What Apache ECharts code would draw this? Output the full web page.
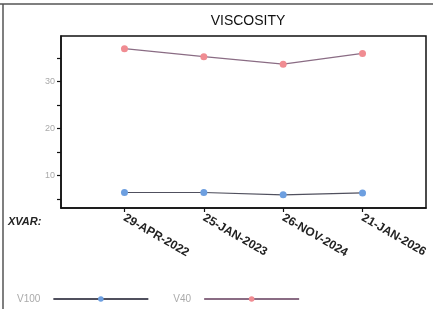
<!DOCTYPE html>
<html>
<head>
<meta charset="utf-8">
<script src="https://cdn.jsdelivr.net/npm/echarts@6/dist/echarts.min.js"></script>
<style>
  html, body { margin: 0; padding: 0; background: #fff; }
  #viscosityChart { width: 433px; height: 309px; }
</style>
</head>
<body>
<div id="viscosityChart"></div>
<script>
const sampleDates = ["29-APR-2022", "25-JAN-2023", "26-NOV-2024", "21-JAN-2026"];
const v100Values = [6.4, 6.4, 5.9, 6.3];
const v40Values = [37.0, 35.3, 33.7, 36.0];
const yTicks = [5, 10, 15, 20, 25, 30, 35];
const yLabels = [10, 20, 30];

const toPoints = (vals) => vals.map((v, i) => [i, v]);

const option = {
    animation: false,
    textStyle: { fontFamily: "Liberation Sans, Arial, sans-serif" },
    title: {
        text: "VISCOSITY",
        left: 243,
        top: 9,
        textAlign: "center",
        textStyle: { fontSize: 14, fontWeight: 500, color: "#111" }
    },
    grid: {
        left: 61,
        top: 36,
        right: 7,
        bottom: 101,
        show: true,
        borderColor: "#111",
        borderWidth: 1.5
    },
    xAxis: {
        type: "value",
        min: -0.8,
        max: 3.8,
        splitLine: { show: false },
        axisLine: { show: true, onZero: false, lineStyle: { color: "#111", width: 1.5 } },
        axisTick: { show: true, length: 4, customValues: [0, 1, 2, 3], lineStyle: { color: "#111", width: 1.2 } },
        axisLabel: {
            customValues: [0, 1, 2, 3],
            formatter: (v) => sampleDates[v],
            rotate: -30,
            margin: 9,
            fontSize: 12,
            fontWeight: "bold",
            color: "#222"
        }
    },
    yAxis: {
        type: "value",
        min: 3.1,
        max: 39.7,
        splitLine: { show: false },
        axisLine: { show: true, onZero: false, lineStyle: { color: "#111", width: 1.5 } },
        axisTick: { show: true, length: 4, customValues: yTicks, lineStyle: { color: "#111", width: 1.2 } },
        axisLabel: { customValues: yLabels, fontSize: 9, color: "#aaa", margin: 6 }
    },
    legend: {
        left: 12,
        top: 289,
        align: "right",
        itemWidth: 95,
        itemHeight: 7,
        itemGap: 24,
        textStyle: { fontSize: 10, color: "#aaa", padding: [0, 8, 0, 0] },
        data: ["V100", "V40"]
    },
    graphic: [
        { type: "line", shape: { x1: 0, y1: 4, x2: 433, y2: 4 }, style: { stroke: "#555", lineWidth: 1.5 } },
        { type: "line", shape: { x1: 3, y1: 4, x2: 3, y2: 309 }, style: { stroke: "#555", lineWidth: 1.5 } },
        {
            type: "text", left: 8, top: 216,
            style: { text: "XVAR:", font: "italic bold 11px Liberation Sans", fill: "#222" }
        }
    ],
    series: [
        {
            name: "V100",
            type: "line",
            data: toPoints(v100Values),
            symbol: "circle",
            symbolSize: 7,
            itemStyle: { color: "#6d9fe0" },
            lineStyle: { color: "#50505e", width: 1.2 }
        },
        {
            name: "V40",
            type: "line",
            data: toPoints(v40Values),
            symbol: "circle",
            symbolSize: 7,
            itemStyle: { color: "#f08c92" },
            lineStyle: { color: "#8a6c84", width: 1.2 }
        }
    ]
};

const chart = echarts.init(document.getElementById("viscosityChart"));
chart.setOption(option);
</script>
</body>
</html>
